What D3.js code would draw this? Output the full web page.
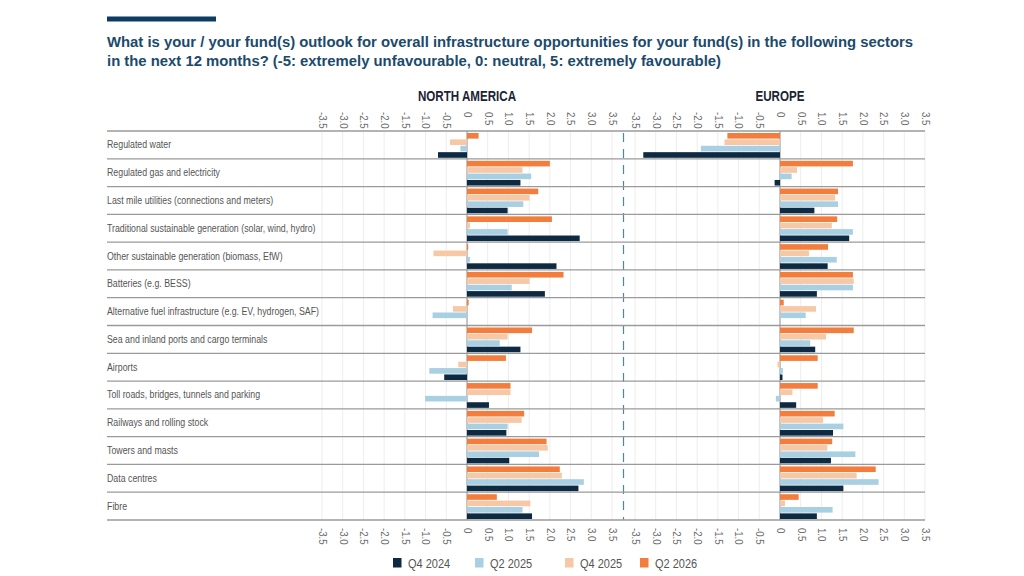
<!DOCTYPE html>
<html>
<head>
<meta charset="utf-8">
<script src="https://cdn.jsdelivr.net/npm/d3@7"></script>
<style>
  body { margin: 0; background: #fff; }
  svg { display: block; }
</style>
</head>
<body>
<div id="chart"></div>
<script>
// sectors, top to bottom
const categories = [
  "Regulated water",
  "Regulated gas and electricity",
  "Last mile utilities (connections and meters)",
  "Traditional sustainable generation (solar, wind, hydro)",
  "Other sustainable generation (biomass, EfW)",
  "Batteries (e.g. BESS)",
  "Alternative fuel infrastructure (e.g. EV, hydrogen, SAF)",
  "Sea and inland ports and cargo terminals",
  "Airports",
  "Toll roads, bridges, tunnels and parking",
  "Railways and rolling stock",
  "Towers and masts",
  "Data centres",
  "Fibre"
];

const seriesNames = ["Q4 2024", "Q2 2025", "Q4 2025", "Q2 2026"];
const seriesColors = ["#0d2a42", "#a9cfe3", "#f7c8a6", "#f27d3d"];

// North America
const na_q4_2024 = [-0.70, 1.29, 0.98, 2.72, 2.16, 1.88, 0.00, 1.29, -0.55, 0.53, 0.95, 1.02, 2.69, 1.57];
const na_q2_2025 = [-0.16, 1.55, 1.36, 0.98, 0.07, 1.08, -0.83, 0.79, -0.91, -1.01, 0.98, 1.74, 2.82, 1.34];
const na_q4_2025 = [-0.41, 1.34, 1.51, 0.07, -0.81, 1.51, -0.34, 0.98, -0.21, 1.05, 1.32, 1.95, 2.29, 1.53];
const na_q2_2026 = [0.28, 2.00, 1.72, 2.05, 0.03, 2.33, 0.04, 1.57, 0.94, 1.05, 1.38, 1.92, 2.24, 0.72];

// Europe
const eu_q4_2024 = [-3.30, -0.13, 0.83, 1.67, 1.15, 0.89, 0.00, 0.85, 0.06, 0.39, 1.28, 1.23, 1.53, 0.89];
const eu_q2_2025 = [-1.91, 0.28, 1.40, 1.76, 1.37, 1.76, 0.62, 0.73, 0.07, -0.10, 1.53, 1.82, 2.38, 1.27];
const eu_q4_2025 = [-1.34, 0.41, 1.33, 1.25, 0.70, 1.78, 0.87, 1.11, -0.06, 0.30, 1.04, 1.14, 1.85, 0.12];
const eu_q2_2026 = [-1.27, 1.76, 1.40, 1.38, 1.16, 1.76, 0.09, 1.78, 0.91, 0.91, 1.32, 1.26, 2.31, 0.45];

const tickValues = [-3.5, -3, -2.5, -2, -1.5, -1, -0.5, 0, 0.5, 1, 1.5, 2, 2.5, 3, 3.5];
const tickLabels = ["-3.5", "-3.0", "-2.5", "-2.0", "-1.5", "-1.0", "-0.5", "0", "0.5", "1.0", "1.5", "2.0", "2.5", "3.0", "3.5"];

const panels = [
  {name: "NORTH AMERICA", range: [322, 612], series: [na_q4_2024, na_q2_2025, na_q4_2025, na_q2_2026]},
  {name: "EUROPE", range: [635, 925], series: [eu_q4_2024, eu_q2_2025, eu_q4_2025, eu_q2_2026]}
];

const width = 1024, height = 576;
const plotLeft = 107, plotRight = 925, plotTop = 131, plotBottom = 520;
const font = "'Liberation Sans', Arial, Helvetica, sans-serif";

// squeeze text horizontally to mimic the condensed face of the original
function condense(sel, factor) {
  sel.each(function() {
    const w = this.getComputedTextLength();
    if (w > 0) {
      d3.select(this)
        .attr("textLength", w * factor)
        .attr("lengthAdjust", "spacingAndGlyphs");
    }
  });
}

const svg = d3.select("#chart").append("svg")
  .attr("width", width)
  .attr("height", height);

// header bar and title
svg.append("rect")
  .attr("x", 107).attr("y", 16.5)
  .attr("width", 109).attr("height", 5)
  .attr("fill", "#0d3b62");

const title = svg.append("g")
  .attr("font-family", font)
  .attr("font-weight", 700)
  .attr("font-size", "15px")
  .attr("fill", "#1b4a6c");
title.append("text").attr("x", 107).attr("y", 47)
  .text("What is your / your fund(s) outlook for overall infrastructure opportunities for your fund(s) in the following sectors");
title.append("text").attr("x", 107).attr("y", 66)
  .text("in the next 12 months? (-5: extremely unfavourable, 0: neutral, 5: extremely favourable)");
condense(title.selectAll("text"), 0.99);

// row layout
const y = d3.scaleBand()
  .domain(categories)
  .range([plotTop, plotBottom])
  .paddingInner(0)
  .paddingOuter(0);

// series order inside a row: newest on top
const y1 = d3.scaleBand()
  .domain(seriesNames.slice().reverse())
  .range([2, y.bandwidth() - 1])
  .paddingInner(0.12);

panels.forEach(function(p) {
  const x = d3.scaleLinear().domain([-3.5, 3.5]).range(p.range);
  const g = svg.append("g");

  // vertical gridlines
  g.selectAll("line.grid")
    .data(tickValues)
    .enter().append("line")
      .attr("class", "grid")
      .attr("x1", d => x(d)).attr("x2", d => x(d))
      .attr("y1", plotTop).attr("y2", plotBottom)
      .attr("stroke", d => d === 0 ? "#8a8a8a" : "#ededed")
      .attr("stroke-width", 1);

  // bars
  p.series.forEach(function(vals, si) {
    g.selectAll("rect.s" + si)
      .data(vals)
      .enter().append("rect")
        .attr("class", "s" + si)
        .attr("x", d => x(Math.min(0, d)))
        .attr("width", d => Math.abs(x(d) - x(0)))
        .attr("y", (d, i) => y(categories[i]) + y1(seriesNames[si]))
        .attr("height", y1.bandwidth())
        .attr("fill", seriesColors[si]);
  });

  // top and bottom tick labels, rotated
  [plotTop - 19, plotBottom + 8].forEach(function(ty) {
    const axis = d3.axisBottom(x)
      .tickValues(tickValues)
      .tickFormat((d, i) => tickLabels[i])
      .tickSize(0);
    const a = g.append("g")
      .attr("transform", "translate(0," + ty + ")")
      .call(axis);
    a.select(".domain").remove();
    a.selectAll("text")
      .attr("transform", "rotate(90)")
      .attr("x", 0)
      .attr("y", 0)
      .attr("dy", "0.35em")
      .attr("text-anchor", "start")
      .attr("font-family", font)
      .attr("font-size", "10.5px")
      .attr("fill", "#6a6a6a");
    condense(a.selectAll("text"), 0.92);
  });

  // panel heading
  const head = svg.append("text")
    .attr("x", x(0))
    .attr("y", 100.5)
    .attr("text-anchor", "middle")
    .attr("font-family", font)
    .attr("font-weight", 700)
    .attr("font-size", "14.5px")
    .attr("fill", "#1a2433")
    .text(p.name);
  condense(head, 0.8);
});

// dashed divider between the panels
svg.append("line")
  .attr("x1", 623.5).attr("x2", 623.5)
  .attr("y1", plotTop + 2).attr("y2", plotBottom)
  .attr("stroke", "#4a86ad")
  .attr("stroke-width", 1.2)
  .attr("stroke-dasharray", "9,7");

// row separators
svg.selectAll("line.sep")
  .data(d3.range(categories.length + 1))
  .enter().append("line")
    .attr("class", "sep")
    .attr("x1", plotLeft).attr("x2", plotRight)
    .attr("y1", i => plotTop + i * y.step())
    .attr("y2", i => plotTop + i * y.step())
    .attr("stroke", "#9a9a9a")
    .attr("stroke-width", 1.3);

// row labels
const cats = svg.selectAll("text.cat")
  .data(categories)
  .enter().append("text")
    .attr("class", "cat")
    .attr("x", plotLeft)
    .attr("y", d => y(d) + y.bandwidth() / 2)
    .attr("dy", "0.35em")
    .attr("font-family", font)
    .attr("font-size", "10px")
    .attr("fill", "#555")
    .text(d => d);
condense(cats, 0.88);

// legend
const legX = [393, 475, 565, 640];
const leg = svg.selectAll("g.leg")
  .data(seriesNames)
  .enter().append("g")
    .attr("class", "leg")
    .attr("transform", (d, i) => "translate(" + legX[i] + ",558)");
leg.append("rect")
  .attr("width", 8.5).attr("height", 9.5)
  .attr("fill", (d, i) => seriesColors[i]);
const legText = leg.append("text")
  .attr("x", 15).attr("y", 9.5)
  .attr("font-family", font)
  .attr("font-size", "12.5px")
  .attr("fill", "#555")
  .text(d => d);
condense(legText, 0.88);
</script>
</body>
</html>
